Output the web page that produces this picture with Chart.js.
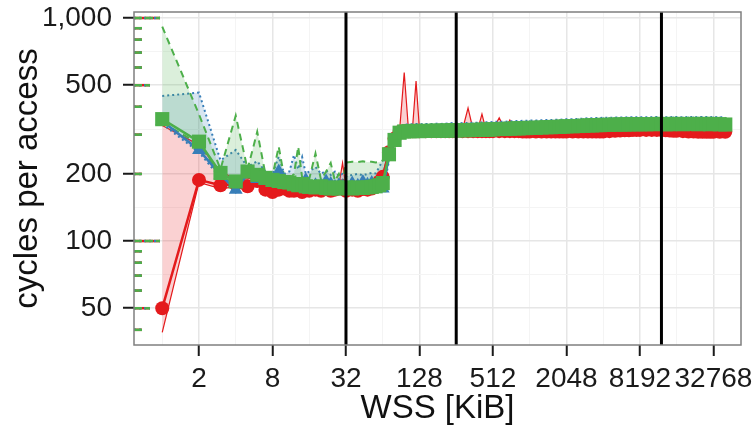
<!DOCTYPE html>
<html>
<head>
<meta charset="utf-8">
<script src="https://cdn.jsdelivr.net/npm/chart.js@4.4.0/dist/chart.umd.min.js"></script>
<style>
    html, body { margin: 0; padding: 0; background: #fff; }
</style>
</head>
<body>
<canvas id="chart" width="754" height="429"></canvas>
<script>
// Working set sizes (KiB)
const wss = [
    1, 2, 3, 4, 5, 6, 7, 8,
    9, 10, 11, 12, 13, 14, 15, 16,
    18, 20, 22, 24, 26, 28, 30, 32,
    36, 40, 44, 48, 52, 56, 60, 64,
    72, 80, 88, 96, 104, 112, 120, 128,
    144, 160, 176, 192, 208, 224, 240, 256,
    288, 320, 352, 384, 416, 448, 480, 512,
    576, 640, 704, 768, 832, 896, 960, 1024,
    1152, 1280, 1408, 1536, 1664, 1792, 1920, 2048,
    2304, 2560, 2816, 3072, 3328, 3584, 3840, 4096,
    4608, 5120, 5632, 6144, 6656, 7168, 7680, 8192,
    9216, 10240, 11264, 12288, 13312, 14336, 15360, 16384,
    18432, 20480, 22528, 24576, 26624, 28672, 30720, 32768,
    36864, 40960
];

// red series (circles): median, min, max
const redMed = [
    50, 188, 178, 180, 176, 186, 170, 166,
    170, 172, 168, 168, 170, 166, 172, 168,
    170, 168, 172, 168, 170, 172, 176, 168,
    170, 168, 171, 170, 172, 175, 185, 194,
    250, 288, 308, 311, 311, 311, 311, 311,
    311, 311, 311, 311, 311, 311, 311, 311,
    311, 311, 311, 311, 311, 311, 311, 311,
    311, 311, 311, 311, 311, 310, 310, 310,
    310, 310, 310, 310, 310, 310, 310, 310,
    310, 310, 310, 310, 310, 310, 310, 310,
    311, 312, 313, 314, 314, 315, 315, 315,
    315, 315, 315, 315, 314, 313, 312, 312,
    311, 310, 310, 309, 309, 309, 309, 309,
    309, 309
];
const redMin = [
    39, 183, 172, 175, 171, 180, 165, 161,
    165, 167, 163, 163, 165, 161, 167, 163,
    165, 163, 167, 163, 165, 167, 170, 163,
    165, 163, 166, 165, 167, 170, 180, 188,
    240, 282, 303, 306, 306, 306, 306, 306,
    306, 306, 306, 306, 306, 306, 306, 306,
    306, 306, 306, 306, 306, 306, 306, 306,
    306, 306, 306, 306, 306, 305, 305, 305,
    305, 305, 305, 305, 305, 305, 305, 305,
    305, 305, 305, 305, 305, 305, 305, 305,
    306, 307, 308, 309, 309, 310, 310, 310,
    310, 310, 310, 310, 309, 308, 307, 307,
    306, 305, 305, 304, 304, 304, 304, 304,
    304, 304
];
const redMax = [
    330, 270, 205, 190, 190, 195, 180, 175,
    178, 178, 174, 174, 176, 172, 178, 174,
    176, 174, 178, 174, 176, 178, 224, 174,
    176, 174, 177, 176, 178, 181, 191, 200,
    256, 294, 314, 570, 316, 316, 522, 316,
    316, 316, 316, 316, 316, 316, 316, 316,
    316, 395, 316, 316, 371, 316, 316, 316,
    357, 316, 349, 316, 316, 315, 315, 315,
    315, 315, 315, 315, 315, 315, 315, 315,
    315, 315, 315, 315, 315, 315, 315, 315,
    316, 317, 318, 319, 319, 320, 320, 320,
    320, 320, 320, 320, 319, 318, 317, 317,
    316, 315, 315, 314, 314, 314, 314, 314,
    314, 314
];

// blue series (triangles)
const blueMed = [
    345, 256, 198, 170, 200, 190, 186, 183,
    205, 186, 182, 180, 178, 176, 188, 175,
    178, 176, 185, 180, 175, 178, 176, 172,
    181, 177, 184, 179, 182, 176, 180, 172,
    240, 280, 305, 309, 310, 310, 311, 310,
    311, 311, 312, 311, 312, 312, 313, 312,
    313, 313, 314, 314, 315, 315, 315, 316,
    317, 317, 318, 319, 319, 320, 320, 321,
    321, 322, 323, 323, 324, 324, 325, 326,
    326, 327, 328, 329, 329, 330, 330, 331,
    331, 332, 332, 332, 333, 333, 333, 333,
    333, 333, 334, 334, 333, 333, 334, 334,
    333, 334, 334, 333, 334, 334, 333, 334,
    333, 332
];
const blueMin = [
    335, 250, 192, 165, 194, 184, 180, 177,
    190, 180, 176, 174, 172, 170, 176, 169,
    172, 170, 174, 172, 169, 172, 170, 166,
    172, 170, 174, 172, 174, 170, 172, 166,
    228, 272, 299, 303, 304, 304, 305, 304,
    305, 305, 306, 305, 306, 306, 307, 306,
    307, 307, 308, 308, 309, 309, 309, 310,
    311, 311, 312, 313, 313, 314, 314, 315,
    315, 316, 317, 317, 318, 318, 319, 320,
    320, 321, 322, 323, 323, 324, 324, 325,
    325, 326, 326, 326, 327, 327, 327, 327,
    327, 327, 328, 328, 327, 327, 328, 328,
    327, 328, 328, 327, 328, 328, 327, 328,
    327, 326
];
const blueMax = [
    447, 463, 230, 256, 215, 228, 205, 200,
    239, 200, 205, 243, 210, 238, 200, 205,
    215, 200, 207, 198, 205, 196, 200, 195,
    198, 200, 197, 200, 202, 201, 215, 230,
    262, 298, 324, 332, 334, 334, 335, 334,
    335, 335, 336, 335, 336, 337, 338, 337,
    338, 338, 339, 339, 340, 341, 341, 342,
    343, 343, 344, 345, 345, 346, 346, 347,
    347, 348, 349, 349, 350, 350, 351, 352,
    352, 353, 354, 355, 355, 356, 356, 357,
    357, 358, 358, 358, 359, 359, 359, 359,
    359, 359, 360, 360, 359, 359, 360, 360,
    359, 360, 360, 359, 360, 360, 359, 360,
    359, 358
];

// green series (squares)
const greenMed = [
    352, 279, 202, 185, 205, 198, 192, 188,
    186, 184, 183, 180, 178, 180, 176, 175,
    174, 176, 173, 172, 174, 172, 173, 174,
    172, 174, 173, 174, 175, 176, 178, 182,
    245, 284, 306, 310, 311, 311, 312, 311,
    312, 312, 313, 312, 313, 313, 314, 313,
    314, 314, 315, 315, 316, 316, 316, 317,
    318, 318, 319, 320, 320, 321, 321, 322,
    322, 323, 324, 324, 325, 325, 326, 327,
    327, 328, 329, 330, 330, 331, 331, 332,
    332, 333, 333, 333, 334, 334, 334, 334,
    334, 334, 335, 335, 334, 334, 335, 335,
    334, 335, 335, 334, 335, 335, 334, 335,
    334, 333
];
const greenMin = [
    340, 272, 196, 180, 198, 192, 186, 182,
    180, 179, 178, 175, 173, 175, 171, 170,
    169, 171, 168, 167, 169, 167, 168, 169,
    167, 169, 168, 169, 170, 171, 172, 176,
    232, 276, 300, 305, 306, 306, 307, 306,
    307, 307, 308, 307, 308, 308, 309, 308,
    309, 309, 310, 310, 311, 311, 311, 312,
    313, 313, 314, 315, 315, 316, 316, 317,
    317, 318, 319, 319, 320, 320, 321, 322,
    322, 323, 324, 325, 325, 326, 326, 327,
    327, 328, 328, 328, 329, 329, 329, 329,
    329, 329, 330, 330, 329, 329, 330, 330,
    329, 330, 330, 329, 330, 330, 329, 330,
    329, 328
];
const greenMax = [
    914, 370, 210, 365, 210, 309, 200, 196,
    265, 192, 190, 200, 265, 192, 188, 190,
    247, 188, 205, 224, 186, 200, 182, 225,
    227, 226, 228, 226, 227, 225, 226, 230,
    262, 296, 316, 320, 321, 322, 322, 321,
    322, 322, 323, 322, 323, 323, 324, 323,
    324, 324, 325, 325, 326, 326, 326, 327,
    328, 328, 329, 330, 330, 331, 331, 332,
    332, 333, 334, 334, 335, 335, 336, 337,
    337, 338, 339, 340, 340, 341, 341, 342,
    342, 343, 343, 343, 344, 344, 344, 344,
    344, 344, 345, 345, 344, 344, 345, 345,
    344, 345, 345, 344, 345, 345, 344, 345,
    344, 343
];

// axes
const xMajor = [2, 8, 32, 128, 512, 2048, 8192, 32768];
const xMinor = [1, 4, 16, 64, 256, 1024, 4096, 16384];
const yMajor = [50, 100, 200, 500, 1000];
const yMinor = [70.7, 141.4, 316.2, 707.1];
const logTickValues = [40, 50, 60, 70, 80, 90, 100, 200, 300, 400, 500, 600, 700, 800, 900, 1000];
const cacheSizes = [32, 256, 12288];

const RED = '#E41A1C', BLUE = '#377EB8', GREEN = '#4DAF4A';

function pts(arr) {
    return wss.map((x, i) => ({ x: x, y: arr[i] }));
}

function ribbon(arr, color, dash, isMax, fillColor, order) {
    return {
        data: pts(arr),
        borderColor: color,
        borderWidth: dash.length ? 2 : 1.2,
        borderDash: dash,
        pointRadius: 0,
        fill: isMax ? '-1' : false,
        backgroundColor: fillColor,
        order: order
    };
}

function median(arr, color, style, radius, order) {
    return {
        data: pts(arr),
        borderColor: color,
        backgroundColor: color,
        borderWidth: 2.5,
        pointStyle: style,
        pointRadius: radius,
        pointBorderWidth: 0,
        pointBackgroundColor: color,
        fill: false,
        order: order
    };
}

const overlay = {
    id: 'overlay',
    afterDatasetsDraw(chart) {
        const { ctx, chartArea: a, scales: { x, y } } = chart;
        ctx.save();

        // cache size markers
        ctx.strokeStyle = '#000';
        ctx.lineWidth = 3;
        cacheSizes.forEach(v => {
            const px = x.getPixelForValue(v);
            ctx.beginPath();
            ctx.moveTo(px, a.top);
            ctx.lineTo(px, a.bottom);
            ctx.stroke();
        });

        // log ticks on the left edge, one pass per series
        const styles = [[RED, []], [BLUE, [2, 3]], [GREEN, [8, 3]]];
        ctx.lineWidth = 2.5;
        styles.forEach(([col, dash]) => {
            ctx.strokeStyle = col;
            ctx.setLineDash(dash);
            logTickValues.forEach(v => {
                const lead = String(v)[0];
                const len = lead === '1' ? 26 : (lead === '5' ? 16 : 8);
                const py = y.getPixelForValue(v);
                ctx.beginPath();
                ctx.moveTo(a.left, py);
                ctx.lineTo(a.left + len, py);
                ctx.stroke();
            });
        });
        ctx.setLineDash([]);

        // panel border
        ctx.strokeStyle = '#7f7f7f';
        ctx.lineWidth = 1.5;
        ctx.strokeRect(a.left, a.top, a.right - a.left, a.bottom - a.top);
        ctx.restore();
    }
};

new Chart(document.getElementById('chart'), {
    type: 'line',
    data: {
        datasets: [
            ribbon(redMin, RED, [], false, 'rgba(228,26,28,0.2)', 12),
            ribbon(redMax, RED, [], true, 'rgba(228,26,28,0.2)', 11),
            ribbon(blueMin, BLUE, [2, 3], false, 'rgba(55,126,184,0.2)', 10),
            ribbon(blueMax, BLUE, [2, 3], true, 'rgba(55,126,184,0.2)', 9),
            ribbon(greenMin, GREEN, [7, 5], false, 'rgba(77,175,74,0.2)', 8),
            ribbon(greenMax, GREEN, [7, 5], true, 'rgba(77,175,74,0.2)', 7),
            median(redMed, RED, 'circle', 7, 3),
            median(blueMed, BLUE, 'triangle', 8, 2),
            median(greenMed, GREEN, 'rect', 10, 1)
        ]
    },
    options: {
        responsive: false,
        animation: false,
        devicePixelRatio: 1,
        events: [],
        layout: { padding: { top: 12, right: 13, left: 0, bottom: 0 } },
        elements: { line: { tension: 0 } },
        plugins: {
            legend: { display: false },
            tooltip: { enabled: false }
        },
        scales: {
            x: {
                type: 'logarithmic',
                min: 0.587,
                max: 55100,
                afterBuildTicks: s => {
                    s.ticks = xMinor.concat(xMajor).sort((p, q) => p - q).map(v => ({ value: v }));
                },
                afterFit: s => { s.height = 84; s.paddingLeft = 0; s.paddingRight = 0; },
                ticks: {
                    autoSkip: false,
                    maxRotation: 0,
                    padding: 6,
                    color: '#1a1a1a',
                    font: { family: 'Liberation Sans, Arial, sans-serif', size: 28 },
                    callback: v => xMajor.includes(v) ? String(v) : ''
                },
                grid: {
                    color: c => xMajor.includes(c.tick.value) ? '#e6e6e6' : '#f4f4f4',
                    lineWidth: c => xMajor.includes(c.tick.value) ? 1.5 : 1,
                    tickColor: c => xMajor.includes(c.tick.value) ? '#1a1a1a' : 'rgba(0,0,0,0)',
                    tickLength: 11,
                    tickWidth: 2
                },
                border: { display: false },
                title: {
                    display: true,
                    text: 'WSS [KiB]',
                    color: '#111',
                    font: { family: 'Liberation Sans, Arial, sans-serif', size: 33 },
                    padding: { top: 0, bottom: 0 }
                }
            },
            y: {
                type: 'logarithmic',
                min: 34.2,
                max: 1064,
                afterBuildTicks: s => {
                    s.ticks = yMinor.concat(yMajor).sort((p, q) => p - q).map(v => ({ value: v }));
                },
                afterFit: s => { s.width = 134; s.paddingTop = 0; s.paddingBottom = 0; },
                ticks: {
                    autoSkip: false,
                    padding: 11,
                    color: '#1a1a1a',
                    font: { family: 'Liberation Sans, Arial, sans-serif', size: 28 },
                    callback: v => yMajor.includes(v) ? v.toLocaleString('en-US') : ''
                },
                grid: {
                    color: c => yMajor.includes(c.tick.value) ? '#e6e6e6' : '#f4f4f4',
                    lineWidth: c => yMajor.includes(c.tick.value) ? 1.5 : 1,
                    tickColor: c => yMajor.includes(c.tick.value) ? '#1a1a1a' : 'rgba(0,0,0,0)',
                    tickLength: 11,
                    tickWidth: 2
                },
                border: { display: false },
                title: {
                    display: true,
                    text: 'cycles per access',
                    color: '#111',
                    font: { family: 'Liberation Sans, Arial, sans-serif', size: 33 },
                    padding: { top: 8, bottom: 0 }
                }
            }
        }
    },
    plugins: [overlay]
});
</script>
</body>
</html>
